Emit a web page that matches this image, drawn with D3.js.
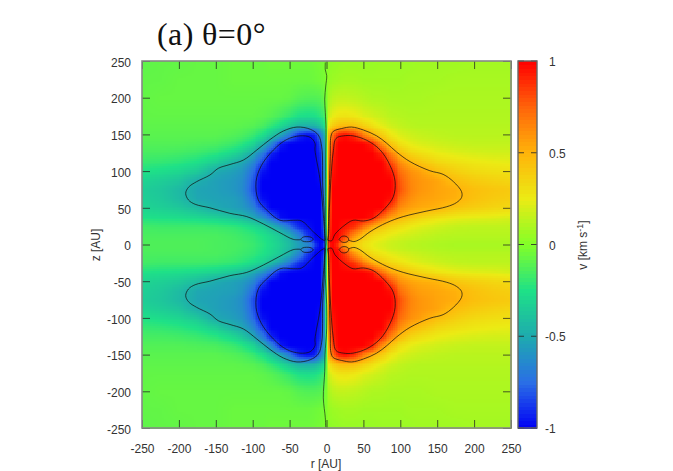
<!DOCTYPE html>
<html><head><meta charset="utf-8">
<style>html,body{margin:0;padding:0;background:#fff}svg{display:block}</style>
<script src="https://cdn.jsdelivr.net/npm/d3@7"></script></head><body><svg id="c" width="673" height="471"></svg>
<script>
const rCols=[0,4,8,15,25,37.5,50,62.5,75,87.5,100,112.5,125,150,175,200,225,250];
const zRows=[0,5,12.5,25,37.5,50,62.5,75,87.5,100,112.5,125,137.5,150,162.5,175,200,225,250];
const rightField=[
[0,.9,1,.85,.55,.4,.3,.24,.2,.17,.15,.13,.12,.1,.09,.09,.09,.09],
[0,1,1,.95,.7,.46,.33,.26,.22,.18,.16,.14,.13,.11,.1,.1,.1,.1],
[0,.9,1,1,.85,.62,.42,.32,.27,.23,.2,.18,.16,.13,.12,.12,.12,.12],
[0,.8,1,1,.95,.88,.7,.52,.42,.35,.3,.25,.22,.18,.15,.14,.14,.14],
[0,.75,1,1,1,1,1,.96,.72,.56,.49,.42,.36,.29,.25,.23,.22,.2],
[0,.7,1,1,1,1,1,1,1,.8,.62,.56,.53,.5,.42,.38,.35,.33],
[0,.7,1,1,1,1,1,1,1,.97,.72,.62,.57,.54,.51,.44,.4,.38],
[0,.7,1,1,1,1,1,1,1,1,.8,.66,.6,.55,.52,.45,.42,.4],
[0,.7,.98,1,1,1,1,1,1,1,.78,.65,.6,.55,.46,.4,.37,.35],
[0,.7,.95,1,1,1,1,1,1,.95,.72,.62,.57,.46,.38,.33,.31,.3],
[0,.68,.93,1,1,1,1,1,1,.82,.62,.51,.44,.34,.3,.27,.25,.24],
[0,.65,.9,1,1,1,1,1,.9,.66,.47,.36,.31,.25,.22,.2,.19,.19],
[0,.6,.82,1,1,1,1,.92,.62,.42,.3,.24,.21,.18,.16,.15,.15,.15],
[0,.55,.7,.92,.98,.9,.68,.5,.38,.27,.21,.18,.16,.14,.13,.13,.13,.13],
[0,.3,.38,.45,.47,.46,.38,.3,.23,.18,.15,.13,.12,.12,.12,.12,.12,.12],
[0,.18,.24,.28,.29,.27,.22,.19,.16,.13,.12,.11,.11,.11,.11,.11,.11,.11],
[0,.09,.13,.15,.15,.14,.12,.1,.1,.09,.09,.09,.09,.1,.1,.1,.1,.1],
[0,.04,.06,.07,.08,.08,.07,.07,.07,.07,.07,.08,.08,.08,.09,.09,.09,.09],
[0,.02,.03,.04,.05,.05,.05,.05,.06,.06,.06,.06,.07,.07,.07,.08,.08,.08]];
const leftField=[
[0,-.9,-1,-.85,-.62,-.55,-.42,-.33,-.27,-.22,-.18,-.16,-.15,-.14,-.13,-.13,-.13,-.13],
[0,-1,-1,-.95,-.72,-.58,-.44,-.35,-.28,-.23,-.19,-.17,-.15,-.14,-.13,-.13,-.13,-.13],
[0,-.9,-1,-1,-.88,-.66,-.47,-.36,-.29,-.24,-.2,-.18,-.16,-.14,-.14,-.14,-.14,-.14],
[0,-.8,-1,-1,-.97,-.9,-.72,-.55,-.42,-.33,-.27,-.23,-.2,-.18,-.17,-.17,-.17,-.16],
[0,-.75,-1,-1,-1,-1,-1,-.97,-.76,-.6,-.5,-.43,-.38,-.32,-.29,-.27,-.26,-.25],
[0,-.7,-1,-1,-1,-1,-1,-1,-1,-.84,-.65,-.57,-.54,-.5,-.42,-.36,-.33,-.31],
[0,-.7,-1,-1,-1,-1,-1,-1,-1,-.97,-.75,-.6,-.55,-.53,-.51,-.42,-.36,-.33],
[0,-.7,-1,-1,-1,-1,-1,-1,-1,-1,-.82,-.64,-.58,-.54,-.52,-.43,-.37,-.34],
[0,-.7,-.98,-1,-1,-1,-1,-1,-1,-1,-.8,-.63,-.58,-.54,-.48,-.38,-.34,-.31],
[0,-.7,-.95,-1,-1,-1,-1,-1,-1,-.96,-.75,-.6,-.55,-.5,-.36,-.3,-.27,-.25],
[0,-.68,-.93,-1,-1,-1,-1,-1,-1,-.84,-.64,-.52,-.46,-.34,-.26,-.22,-.2,-.19],
[0,-.65,-.9,-1,-1,-1,-1,-1,-.92,-.68,-.49,-.38,-.3,-.22,-.18,-.16,-.15,-.15],
[0,-.6,-.82,-1,-1,-1,-1,-.94,-.64,-.44,-.3,-.23,-.18,-.14,-.13,-.12,-.12,-.12],
[0,-.55,-.7,-.92,-.98,-.92,-.7,-.5,-.36,-.25,-.18,-.14,-.12,-.1,-.1,-.1,-.1,-.1],
[0,-.3,-.38,-.45,-.47,-.46,-.38,-.28,-.2,-.14,-.11,-.1,-.09,-.09,-.09,-.09,-.09,-.09],
[0,-.18,-.22,-.26,-.27,-.26,-.2,-.15,-.11,-.09,-.08,-.08,-.08,-.08,-.08,-.08,-.08,-.08],
[0,-.07,-.11,-.12,-.12,-.11,-.08,-.07,-.07,-.07,-.07,-.07,-.07,-.07,-.07,-.07,-.07,-.08],
[0,-.03,-.04,-.05,-.06,-.06,-.06,-.06,-.06,-.06,-.06,-.06,-.06,-.07,-.07,-.07,-.08,-.08],
[0,-.02,-.03,-.04,-.05,-.05,-.05,-.05,-.05,-.06,-.06,-.06,-.06,-.07,-.07,-.08,-.08,-.09]];
const colorValues=[-1,-.75,-.5,-.25,0,.25,.5,.75,1];
const colorStops=["#0000f5","#2a6ee6","#1eaaaf","#1ee187","#82ff28","#ebeb14","#ffb40a","#ff640a","#ff0000"];
const axisTicks=[-250,-200,-150,-100,-50,0,50,100,150,200,250];
const barTicks=[-1,-.5,0,.5,1];
const outerRight=[[2,0],[3,40],[4,80],[5,120],[6,147],[9,154],[20.6,158],[34,160],[50,156],[68,148],[81.5,138],[95,126],[113,113],[140,100.5],[158,95.6],[172,85.6],[183,72],[183,64],[176,57],[163,51.5],[136,45.6],[104,38],[81.5,29.7],[59,17.4],[45,7],[37,4],[30,6]];
const innerRight=[[1.5,6],[3,15],[4,50],[6,90],[9,125],[13,144.6],[23,148],[36,148],[54.5,142],[72.5,129],[86,108],[93,85.6],[90.5,65],[79,49],[63.5,35.7],[50,32],[36,33],[25,26.6],[11.5,14],[7,5],[1.5,6]];
const outerLeft=[[-2,0],[-3,40],[-5,80],[-6.5,133],[-11,149],[-22,157],[-40,160],[-58.5,154.6],[-76.5,143],[-94.5,128.7],[-112.7,115],[-130.8,109],[-146.6,103.8],[-157.9,94.7],[-176,85.6],[-187,78],[-190.8,69.7],[-187,60.6],[-178,54.8],[-158,50],[-131,42.5],[-108,38],[-85.6,28],[-63,16],[-45,7],[-35,6.5]];
const innerLeft=[[-1.5,6],[-2.5,15],[-5,50],[-9,90],[-15.6,128.7],[-15.6,137.9],[-22,146],[-36,148],[-54,143],[-72,128.7],[-88,108],[-95.5,85.6],[-92.4,60.6],[-81,47],[-63,33],[-45,33],[-33.6,32],[-18,17.4],[-4.3,6],[-1.5,6]];
const loopRight=[[17,7],[20,10.5],[24,11.5],[28.5,10],[30,7],[28.5,4],[24,2.8],[20,3.8],[17,7]];
const loopLeft=[[-35,7],[-32,10],[-27,10.8],[-21,10],[-18,7.3],[-21,4.5],[-27,3.8],[-32,4.5],[-35,7]];
const zeroLine=[[-1.6,248],[-1.6,238],[0.3,230],[-1,216],[-2.4,198],[-1.6,180],[-.7,158],[-1.1,122],[-1.1,77],[-1.1,31],[-.7,3],[-1.6,-5],[-1.6,-46],[.3,-82],[.3,-114],[-2,-150],[-2.4,-173],[-4.3,-209],[-1.6,-236],[-1.1,-249]];

const W={l:142,r:511,t:61,b:428};
const x=d3.scaleLinear().domain([-250,250]).range([W.l,W.r]);
const y=d3.scaleLinear().domain([-250,250]).range([W.b,W.t]);
const color=d3.scaleLinear().domain(colorValues).range(colorStops).clamp(true);
const svg=d3.select("#c");
function sample(r,z){
  const T=r<0?leftField:rightField, a=Math.min(Math.abs(r),250), b=Math.min(Math.abs(z),250);
  const i=Math.max(1,Math.min(rCols.length-1,d3.bisectLeft(rCols,a))), j=Math.max(1,Math.min(zRows.length-1,d3.bisectLeft(zRows,b)));
  const u=(a-rCols[i-1])/(rCols[i]-rCols[i-1]), w=(b-zRows[j-1])/(zRows[j]-zRows[j-1]);
  return (T[j-1][i-1]*(1-u)+T[j-1][i]*u)*(1-w)+(T[j][i-1]*(1-u)+T[j][i]*u)*w;
}
const step=2.5, cells=[];
for(const r of d3.range(-250,250,step))for(const z of d3.range(-250,250,step))cells.push({r,z,v:sample(r+step/2,z+step/2)});
const cw=x(step)-x(0), ch=y(0)-y(step);
svg.append("g").attr("shape-rendering","crispEdges").selectAll("rect").data(cells).join("rect")
 .attr("x",d=>x(d.r)).attr("y",d=>y(d.z+step)).attr("width",cw+.6).attr("height",ch+.6).attr("fill",d=>color(d.v));
// contours
const line=d3.line().x(d=>x(d[0])).y(d=>y(d[1])).curve(d3.curveCatmullRom.alpha(.5));
const cg=svg.append("g").attr("fill","none").attr("stroke","#111").attr("stroke-opacity",.72).attr("stroke-width",1);
for(const c of [outerRight,innerRight,outerLeft,innerLeft,loopRight,loopLeft]){
  cg.append("path").attr("d",line(c));
  cg.append("path").attr("d",line(c.map(p=>[p[0],-p[1]])));
}
cg.append("path").attr("d",line(zeroLine)).attr("stroke-opacity",.6);
// frame + axes
const tc="#222", sans="'Liberation Sans',Arial,sans-serif";
function style(g,noLabels){
  g.select(".domain").remove();
  g.selectAll("line").attr("stroke",tc).attr("stroke-opacity",.75);
  g.selectAll("text").attr("font-family",sans).attr("font-size",12).attr("fill","#333");
  if(noLabels)g.selectAll("text").remove();
}
svg.append("g").attr("transform",`translate(0,${W.b})`).call(d3.axisBottom(x).tickValues(axisTicks).tickSize(-8).tickPadding(16).tickFormat(String)).call(style);
svg.append("g").attr("transform",`translate(0,${W.t})`).call(d3.axisTop(x).tickValues(axisTicks).tickSize(-8)).call(g=>style(g,true));
svg.append("g").attr("transform",`translate(${W.l},0)`).call(d3.axisLeft(y).tickValues(axisTicks).tickSize(-8).tickPadding(11).tickFormat(String)).call(style).call(g=>g.selectAll("text").attr("dy","1.1em").attr("y",-8));
svg.append("g").attr("transform",`translate(${W.r},0)`).call(d3.axisRight(y).tickValues(axisTicks).tickSize(-8)).call(g=>style(g,true));
svg.append("rect").attr("x",W.l).attr("y",W.t).attr("width",W.r-W.l).attr("height",W.b-W.t).attr("fill","none").attr("stroke","#888").attr("stroke-width",1.6);
// colour bar
const B={l:518,r:537};
const cy=d3.scaleLinear().domain([-1,1]).range([W.b,W.t]);
const barVals=d3.range(-1,1,.02);
svg.append("g").attr("shape-rendering","crispEdges").selectAll("rect").data(barVals).join("rect")
 .attr("x",B.l).attr("width",B.r-B.l).attr("y",d=>cy(d+.02)).attr("height",cy(0)-cy(.02)+.6).attr("fill",d=>color(d+.01));
const barLine=svg.append("g").attr("stroke",tc).attr("stroke-opacity",.8);
barLine.selectAll(".a").data(barTicks).join("line").attr("class","a").attr("x1",B.l).attr("x2",B.l+6).attr("y1",cy).attr("y2",cy);
barLine.selectAll(".b").data(barTicks).join("line").attr("class","b").attr("x1",B.r-6).attr("x2",B.r).attr("y1",cy).attr("y2",cy);
svg.append("rect").attr("x",B.l).attr("y",W.t).attr("width",B.r-B.l).attr("height",W.b-W.t).attr("fill","none").attr("stroke","#666").attr("stroke-width",1.4);
svg.append("g").selectAll("text").data(barTicks).join("text").attr("x",d=>d<0?545:549).attr("y",d=>cy(d)+5)
 .attr("font-family",sans).attr("font-size",12).attr("fill","#333").text(d=>d);
svg.append("text").attr("x",326).attr("y",468).attr("text-anchor","middle").attr("font-family",sans).attr("font-size",12).attr("fill","#333").text("r [AU]");
svg.append("text").attr("transform","translate(100,245) rotate(-90)").attr("text-anchor","middle").attr("font-family",sans).attr("font-size",12).attr("fill","#333").text("z [AU]");
const vt=svg.append("text").attr("transform","translate(587,245) rotate(-90)").attr("text-anchor","middle").attr("font-family",sans).attr("font-size",12).attr("fill","#333");
vt.append("tspan").text("v [km s");
vt.append("tspan").attr("dy",-4).attr("font-size",9).text("-1");
vt.append("tspan").attr("dy",4).text("]");
svg.append("text").attr("x",157).attr("y",45).attr("font-family","'Liberation Serif',serif").attr("font-size",32).attr("letter-spacing",.4).attr("fill","#111").text("(a) θ=0°");
</script></body></html>
